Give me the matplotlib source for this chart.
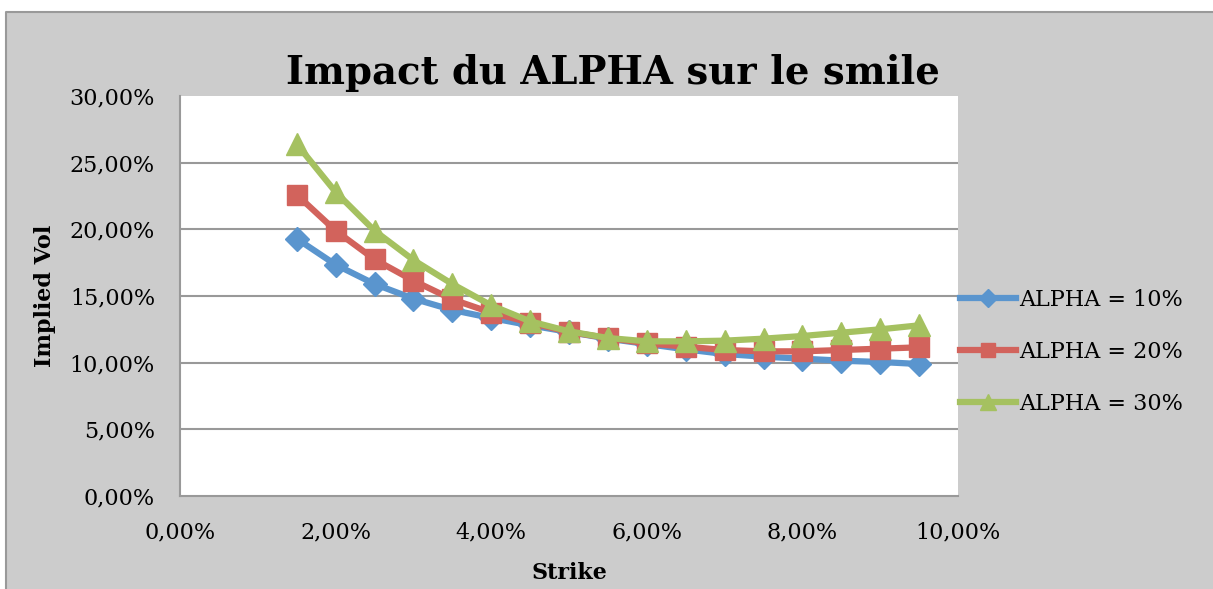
import matplotlib.pyplot as plt
from matplotlib.patches import Rectangle
from matplotlib.lines import Line2D
from matplotlib.ticker import FuncFormatter

# Données (en %)
strike = [1.5, 2.0, 2.5, 3.0, 3.5, 4.0, 4.5, 5.0, 5.5, 6.0, 6.5, 7.0, 7.5, 8.0, 8.5, 9.0, 9.5]
alpha10 = [19.3, 17.35, 15.9, 14.8, 13.95, 13.35, 12.8, 12.3, 11.8, 11.4, 11.0, 10.65, 10.45, 10.3, 10.15, 10.05, 9.9]
alpha20 = [22.6, 19.9, 17.75, 16.15, 14.75, 13.75, 13.0, 12.3, 11.85, 11.45, 11.2, 10.95, 10.85, 10.85, 10.95, 11.05, 11.15]
alpha30 = [26.4, 22.8, 19.9, 17.7, 15.9, 14.3, 13.1, 12.35, 11.85, 11.6, 11.6, 11.65, 11.8, 12.0, 12.25, 12.5, 12.8]
labels = ['ALPHA = 10%', 'ALPHA = 20%', 'ALPHA = 30%']

plt.rcParams['font.family'] = ['DejaVu Serif']

fig = plt.figure(figsize=(12.13, 5.89), dpi=100)
fig.patch.set_facecolor('white')
# cadre gris du graphique (déborde à droite et en bas)
x0, y0 = 6 / 1213, 1 - 12 / 589
fig.patches.append(Rectangle((x0, 0), 1 - x0, y0, transform=fig.transFigure,
                             facecolor='#cccccc', edgecolor='none', zorder=-10))
fig.lines.append(Line2D([x0, x0, 1], [0, y0, y0], transform=fig.transFigure,
                        color='#999999', lw=1.5, zorder=-9))

ax = fig.add_axes([180 / 1213, 1 - 496 / 589, (958 - 180) / 1213, (496 - 96) / 589])
ax.set_facecolor('white')

ax.plot(strike, alpha10, color='#5A95CE', lw=4.5, marker='D', ms=12, label=labels[0])
ax.plot(strike, alpha20, color='#D2635C', lw=4.5, marker='s', ms=14, label=labels[1])
ax.plot(strike, alpha30, color='#A5C160', lw=4.5, marker='^', ms=16, label=labels[2])

ax.set_xlim(0, 10)
ax.set_ylim(0, 30)
ax.set_xticks([0, 2, 4, 6, 8, 10])
ax.set_yticks([0, 5, 10, 15, 20, 25, 30])
fmt = FuncFormatter(lambda v, p: f"{v:.2f}%".replace('.', ','))
ax.xaxis.set_major_formatter(fmt)
ax.yaxis.set_major_formatter(fmt)
ax.tick_params(length=0, labelsize=16, pad=18)
for y in [5, 10, 15, 20, 25]:
    ax.axhline(y, color='#999999', lw=1.5, zorder=0)
for s in ['top', 'right']:
    ax.spines[s].set_visible(False)
for s in ['left', 'bottom']:
    ax.spines[s].set_color('#999999')
    ax.spines[s].set_linewidth(1.5)

fig.text(0.5054, 1 - 84 / 589, 'Impact du ALPHA sur le smile', ha='center', va='baseline',
         fontsize=27.8, fontweight='bold')
fig.text(45 / 1213, 1 - 296 / 589, 'Implied Vol', rotation=90, ha='center', va='center',
         fontsize=16, fontweight='bold')
fig.text(569 / 1213, 1 - 573 / 589, 'Strike', ha='center', va='center',
         fontsize=16, fontweight='bold')

ax.legend(loc='center left', bbox_to_anchor=(960 / 1213, 1 - 352 / 589), bbox_transform=fig.transFigure,
          frameon=False, fontsize=16, handlelength=2.5, handletextpad=0.15, labelspacing=1.36,
          borderaxespad=0, borderpad=0, markerscale=0.75)

fig.savefig('out.png', dpi=100)
